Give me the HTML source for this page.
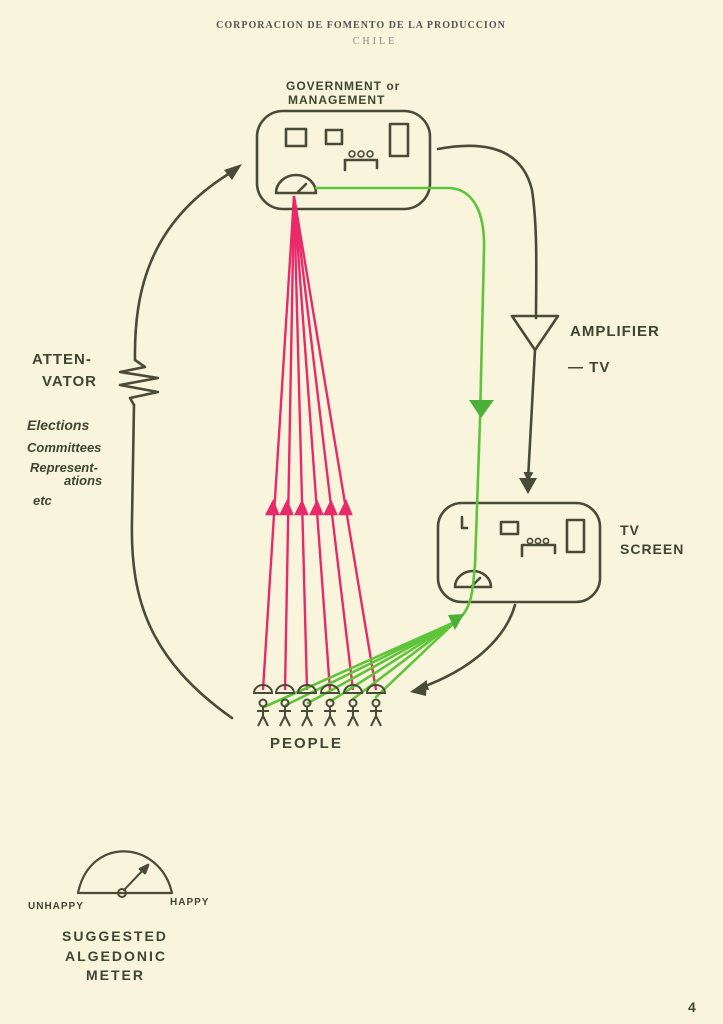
<!DOCTYPE html>
<html><head><meta charset="utf-8"><style>
html,body{margin:0;padding:0;background:#f8f5dc;}
svg{display:block;}
.h{font-family:"Liberation Sans",sans-serif;font-weight:bold;fill:#3e4632;}
</style></head><body>
<svg width="723" height="1024" viewBox="0 0 723 1024" xmlns="http://www.w3.org/2000/svg">
<defs>
<marker id="ak" markerWidth="10" markerHeight="10" refX="8" refY="5" orient="auto" markerUnits="userSpaceOnUse"><path d="M0,0 L10,5 L0,10 Z" fill="#4a4a38"/></marker>
</defs>
<rect width="723" height="1024" fill="#f8f5dc"/>
<text x="361" y="28" text-anchor="middle" font-family="Liberation Serif,serif" font-size="10" font-weight="bold" letter-spacing="1" fill="#555">CORPORACION  DE  FOMENTO  DE  LA  PRODUCCION</text>
<text x="375" y="44" text-anchor="middle" font-family="Liberation Serif,serif" font-size="10" letter-spacing="3" fill="#888">CHILE</text>

<g fill="none" stroke="#4a4a38" stroke-width="2.6" stroke-linecap="round" stroke-linejoin="round">
<rect x="257" y="111" width="173" height="98" rx="26"/>
<rect x="286" y="129" width="20" height="17"/><rect x="326" y="130" width="16" height="14"/><rect x="390" y="124" width="18" height="32"/>
<path d="M345,170 V160 H377 V168"/>
<path d="M276,193 A20,18 0 0 1 316,193 Z"/><path d="M298,192 L306,184"/>
<rect x="438" y="503" width="162" height="99" rx="24"/>
<rect x="501" y="522" width="17" height="12"/><rect x="567" y="520" width="17" height="32"/>
<path d="M522,556 V545 H555 V553"/><path d="M462,517 V528 H467"/>
<path d="M455,587 A18,16 0 0 1 491,587 Z"/><path d="M472,586 L480,578"/>
<path d="M438,149 C470,143 520,140 532,190 C538,230 536,280 536,318"/>
<path d="M512,316 L558,316 L535,350 Z"/>
<path d="M535,350 L528,480" marker-end="url(#ak)"/>
<path d="M515,605 C505,640 470,670 420,688" marker-end="url(#ak)"/>
<path d="M232,718 C150,660 130,600 132,520 L134,405"/>
<path d="M134,405 L130,398 L158,392 L120,385 L158,378 L120,372 L145,367 L135,360"/>
<path d="M135,360 C134,290 150,220 235,170" marker-end="url(#ak)"/>
<path d="M78,893 C90,835 160,840 172,893 Z" stroke-width="2.2"/>
<circle cx="122" cy="893" r="4" stroke-width="2"/>
<path d="M124,890 L145,868" stroke-width="2"/><path d="M140,869 L148,865 L145,873 Z" fill="#4a4a38"/>
</g>
<g fill="none" stroke="#4a4a38" stroke-width="1.6">
<circle cx="352" cy="154" r="3"/><circle cx="361" cy="154" r="3"/><circle cx="370" cy="154" r="3"/>
<circle cx="530" cy="541" r="2.6"/><circle cx="538" cy="541" r="2.6"/><circle cx="546" cy="541" r="2.6"/>
</g>
<path d="M519,478 L537,478 L528,494 Z" fill="#4a4a38"/>
<path d="M224,170 L242,164 L232,180 Z" fill="#4a4a38"/>
<path d="M410,692 L427,680 L426,696 Z" fill="#4a4a38"/>

<g stroke="#e82a6a" stroke-width="2.4" fill="#e82a6a">
<line x1="294" y1="196" x2="263" y2="690"/><line x1="294" y1="196" x2="285" y2="690"/>
<line x1="294" y1="196" x2="307" y2="690"/><line x1="294" y1="196" x2="330" y2="690"/>
<line x1="294" y1="196" x2="353" y2="690"/><line x1="294" y1="196" x2="376" y2="690"/>
<path d="M267,514 L273,502 L278,514 Z"/><path d="M281,514 L287,502 L292,514 Z"/><path d="M296,514 L302,502 L307,514 Z"/>
<path d="M311,514 L317,502 L322,514 Z"/><path d="M325,514 L331,502 L336,514 Z"/><path d="M340,514 L346,502 L351,514 Z"/>
</g>
<g fill="none" stroke="#5ec43a" stroke-width="2.6" stroke-linecap="round">
<path d="M316,188 L450,188 C475,190 485,215 484,250 L480,420 L475,565 L473,585 C471,605 465,615 455,622"/>
<line x1="455" y1="622" x2="264" y2="707"/><line x1="455" y1="622" x2="286" y2="705"/>
<line x1="455" y1="622" x2="308" y2="703"/><line x1="455" y1="622" x2="331" y2="701"/>
<line x1="455" y1="622" x2="353" y2="699"/><line x1="455" y1="622" x2="376" y2="697"/>
</g>
<path d="M469,400 L494,400 L481,418 Z" fill="#4bb03a"/>
<path d="M448,615 L464,614 L455,630 Z" fill="#4bb03a"/>
<g fill="none" stroke="#4a4a38" stroke-width="2">
<g id="p"><path d="M254,693 A9,8 0 0 1 272,693 Z"/><circle cx="263" cy="703" r="3.5"/><path d="M263,707 V716 M257,711 H269 M263,716 L258,726 M263,716 L268,726"/></g>
<use href="#p" x="22"/><use href="#p" x="44"/><use href="#p" x="67"/><use href="#p" x="90"/><use href="#p" x="113"/>
</g>

<g class="h">
<text x="286" y="90" font-size="12" letter-spacing="1">GOVERNMENT or</text>
<text x="288" y="104" font-size="12" letter-spacing="1">MANAGEMENT</text>
<text x="570" y="336" font-size="15" letter-spacing="1">AMPLIFIER</text>
<text x="568" y="372" font-size="15" letter-spacing="1">— TV</text>
<text x="620" y="535" font-size="14" letter-spacing="1">TV</text>
<text x="620" y="554" font-size="14" letter-spacing="1">SCREEN</text>
<text x="32" y="364" font-size="15" letter-spacing="1">ATTEN-</text>
<text x="42" y="386" font-size="15" letter-spacing="1">VATOR</text>
<text x="27" y="430" font-size="14" font-style="italic">Elections</text>
<text x="27" y="452" font-size="13" font-style="italic">Committees</text>
<text x="30" y="472" font-size="13" font-style="italic">Represent-</text>
<text x="64" y="485" font-size="13" font-style="italic">ations</text>
<text x="33" y="505" font-size="13" font-style="italic">etc</text>
<text x="270" y="748" font-size="15" letter-spacing="2">PEOPLE</text>
<text x="28" y="909" font-size="10" letter-spacing="1">UNHAPPY</text>
<text x="170" y="905" font-size="10" letter-spacing="1">HAPPY</text>
<text x="62" y="941" font-size="14" letter-spacing="2">SUGGESTED</text>
<text x="65" y="961" font-size="14" letter-spacing="2">ALGEDONIC</text>
<text x="86" y="980" font-size="14" letter-spacing="2">METER</text>
<text x="688" y="1012" font-size="14">4</text>
</g>
</svg>
</body></html>
